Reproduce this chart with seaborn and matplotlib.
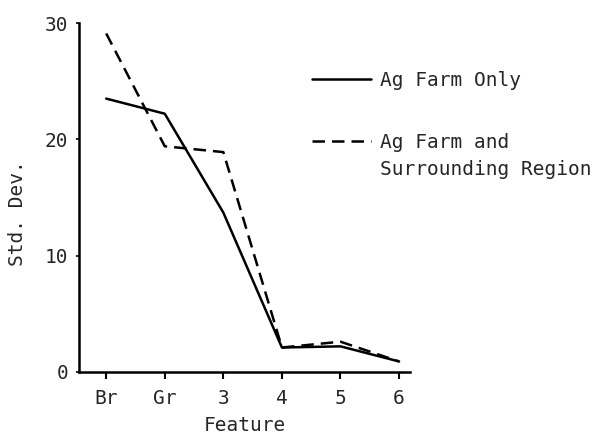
import matplotlib
matplotlib.use('Agg')
import matplotlib.pyplot as plt
import pandas as pd
import seaborn as sns

features = ['Br', 'Gr', '3', '4', '5', '6']
farm_only = [23.5, 22.2, 13.7, 2.1, 2.2, 0.9]
farm_region = [29.1, 19.4, 18.9, 2.1, 2.6, 0.9]
series_names = ['Ag Farm Only', 'Ag Farm and']
y_ticks = [0, 10, 20, 30]

sns.set_style('ticks')
plt.rcParams['font.family'] = ['DejaVu Sans Mono', 'DejaVu Sans']
plt.rcParams['font.size'] = 14

df = pd.concat([
    pd.DataFrame({'feature': features, 'std': farm_only, 'series': series_names[0]}),
    pd.DataFrame({'feature': features, 'std': farm_region, 'series': series_names[1]}),
])

fig = plt.figure(figsize=(6.05, 4.34), dpi=100)
ax = fig.add_axes([0.131, 0.143, 0.547, 0.804])

sns.lineplot(data=df, x='feature', y='std', style='series', color='black',
             dashes={series_names[0]: '', series_names[1]: (5, 2.8)},
             linewidth=1.8, sort=False, ax=ax)

ax.set_ylim(0, 30)
ax.set_xlim(-0.46, 5.19)
ax.set_yticks(y_ticks)
ax.set_xlabel('Feature', fontsize=14, labelpad=6)
ax.set_ylabel('Std. Dev.', fontsize=14)
ax.yaxis.set_label_coords(-0.157, 0.455)
ax.tick_params(axis='x', length=5, width=1.5, pad=7, labelsize=14, color='black')
ax.tick_params(axis='y', length=2, width=1.2, pad=6, labelsize=14, color='black')
for side in ['top', 'right']:
    ax.spines[side].set_visible(False)
for side in ['left', 'bottom']:
    ax.spines[side].set_linewidth(1.8)
    ax.spines[side].set_color('black')

handles, labels = ax.get_legend_handles_labels()
ax.get_legend().remove()
fig.legend(handles, labels, loc='upper left', bbox_to_anchor=(0.516, 0.836),
           frameon=False, borderpad=0, borderaxespad=0, handlelength=3.0,
           handletextpad=0.5, labelspacing=2.2, fontsize=14)
fig.text(380 / 605, 1 - 175 / 434, 'Surrounding Region', fontsize=14, va='baseline')

fig.savefig('out.png', dpi=100)
